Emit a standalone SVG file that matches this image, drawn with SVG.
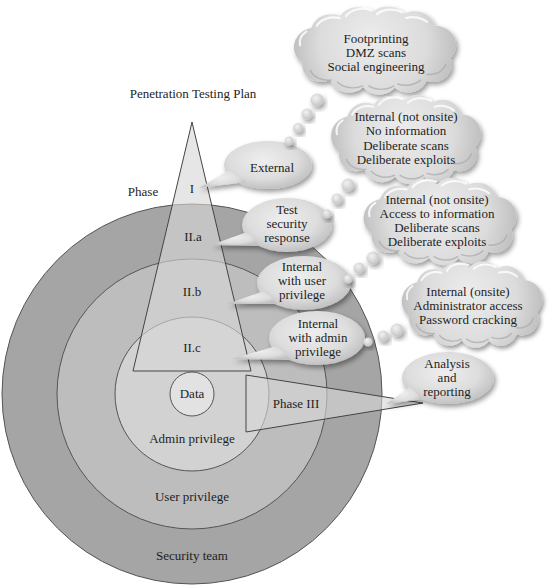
<svg xmlns="http://www.w3.org/2000/svg" xmlns:xlink="http://www.w3.org/1999/xlink" width="550" height="586" viewBox="0 0 550 586" font-family="'Liberation Serif', 'DejaVu Serif', serif">
<style>
  text { font-family: 'Liberation Serif', 'DejaVu Serif', serif; font-size: 13px; fill: #1e1e1e; text-anchor: middle; }
  .ring { stroke: #555; stroke-width: 1; }
  .overlay { fill: #d6d6d6; fill-opacity: 0.62; stroke: #444; stroke-width: 1; }
  .bubble { fill: url(#bubbleGrad); }
  .dot { fill: url(#dotGrad); filter: url(#shadow); }
  .hl { fill: none; stroke: #ffffff; stroke-width: 2.2; stroke-opacity: 0.8; stroke-linecap: round; }
  .lo { fill: none; stroke: #a8a8a8; stroke-width: 1.5; stroke-opacity: 0.7; stroke-linecap: round; }
</style>
<defs>
  <filter id="shadow" x="-20%" y="-20%" width="150%" height="160%">
    <feDropShadow dx="2" dy="3" stdDeviation="2.5" flood-color="#000" flood-opacity="0.4"/>
  </filter>
  <radialGradient id="cloudGrad" gradientUnits="userSpaceOnUse" cx="0" cy="-4" r="86" fx="-5" fy="-15">
    <stop offset="0" stop-color="#ececec"/>
    <stop offset="0.6" stop-color="#dcdcdc"/>
    <stop offset="1" stop-color="#b8b8b8"/>
  </radialGradient>
  <radialGradient id="bubbleGrad" cx="0.45" cy="0.4" r="0.6">
    <stop offset="0" stop-color="#eeeeee"/>
    <stop offset="0.65" stop-color="#dddddd"/>
    <stop offset="1" stop-color="#c2c2c2"/>
  </radialGradient>
  <radialGradient id="dotGrad" cx="0.4" cy="0.35" r="0.65">
    <stop offset="0" stop-color="#f2f2f2"/>
    <stop offset="1" stop-color="#c4c4c4"/>
  </radialGradient>
  <g id="cloudShape">
    <g fill="url(#cloudGrad)">
      <ellipse cx="0" cy="0" rx="62" ry="30"/>
      <circle cx="-58" cy="-4" r="20"/>
      <circle cx="-42" cy="-18" r="20"/>
      <circle cx="-17" cy="-25" r="20"/>
      <circle cx="12" cy="-26" r="20"/>
      <circle cx="38" cy="-21" r="20"/>
      <circle cx="58" cy="-6" r="20"/>
      <circle cx="56" cy="14" r="18"/>
      <circle cx="32" cy="24" r="19"/>
      <circle cx="4" cy="26" r="19"/>
      <circle cx="-25" cy="24" r="19"/>
      <circle cx="-52" cy="14" r="18"/>
    </g>
    <path class="hl" d="M -56,-26 a 18 14 0 0 1 22 -8"/>
    <path class="hl" d="M -28,-36 a 18 14 0 0 1 24 -6"/>
    <path class="hl" d="M 2,-38 a 18 14 0 0 1 24 -2"/>
    <path class="hl" d="M 30,-34 a 18 14 0 0 1 20 4"/>
    <path class="hl" d="M -72,-6 a 16 14 0 0 1 6 -14"/>
    <path class="lo" d="M -62,20 a 18 14 0 0 0 20 10"/>
    <path class="lo" d="M -36,32 a 18 14 0 0 0 24 4"/>
    <path class="lo" d="M -6,36 a 18 14 0 0 0 24 0"/>
    <path class="lo" d="M 22,34 a 18 14 0 0 0 22 -4"/>
    <path class="lo" d="M 50,24 a 16 14 0 0 0 18 -10"/>
  </g>
</defs>

<rect width="550" height="586" fill="#ffffff"/>

<g id="title"><text x="193" y="98">Penetration Testing Plan</text></g>

<g id="security-team">
  <circle class="ring" cx="192" cy="394" r="190" fill="#a5a5a5"/>
  <text x="192" y="560">Security team</text>
</g>
<g id="user-privilege">
  <circle class="ring" cx="192" cy="394" r="135" fill="#bdbdbd"/>
  <text x="192" y="501">User privilege</text>
</g>
<g id="admin-privilege">
  <circle class="ring" cx="192" cy="394" r="77" fill="#d2d2d2"/>
  <text x="192" y="443">Admin privilege</text>
</g>
<g id="data">
  <circle class="ring" cx="192" cy="394" r="22" fill="#e2e2e2"/>
  <text x="192" y="398">Data</text>
</g>

<g id="phase-trapezoid">
  <polygon class="overlay" points="192,122 251,371 133,371"/>
  <text x="143" y="196">Phase</text>
  <text x="192" y="193">I</text>
  <text x="193" y="241">II.a</text>
  <text x="192" y="296">II.b</text>
  <text x="192" y="352">II.c</text>
</g>

<g id="phase-iii">
  <polygon class="overlay" points="246,375 423,403 246,432"/>
  <text x="296" y="408">Phase III</text>
</g>

<g id="bubble-external">
  <g class="bubble" filter="url(#shadow)">
    <ellipse cx="268" cy="165" rx="44" ry="24"/>
    <polygon points="229,170 199,188 246,182"/>
  </g>
  <text x="272" y="172">External</text>
</g>
<g id="bubble-test-security">
  <g class="bubble" filter="url(#shadow)">
    <ellipse cx="287" cy="225" rx="45" ry="27"/>
    <polygon points="247,232 211,245 260,246"/>
  </g>
  <text x="287" y="214">Test</text>
  <text x="287" y="228">security</text>
  <text x="287" y="242">response</text>
</g>
<g id="bubble-user">
  <g class="bubble" filter="url(#shadow)">
    <ellipse cx="304" cy="283" rx="47" ry="27"/>
    <polygon points="264,291 227,304 278,304"/>
  </g>
  <text x="302" y="271">Internal</text>
  <text x="302" y="285">with user</text>
  <text x="302" y="299">privilege</text>
</g>
<g id="bubble-admin">
  <g class="bubble" filter="url(#shadow)">
    <ellipse cx="317" cy="338" rx="48" ry="27"/>
    <polygon points="276,346 232,359 292,360"/>
  </g>
  <text x="318" y="328">Internal</text>
  <text x="318" y="342">with admin</text>
  <text x="318" y="356">privilege</text>
</g>
<g id="bubble-analysis">
  <g class="bubble" filter="url(#shadow)">
    <ellipse cx="448" cy="378" rx="46" ry="26"/>
    <polygon points="410,387 386,404 422,399"/>
  </g>
  <text x="447" y="368">Analysis</text>
  <text x="447" y="382">and</text>
  <text x="447" y="396">reporting</text>
</g>

<g id="connectors">
  <circle class="dot" cx="289" cy="141" r="4.5"/>
  <circle class="dot" cx="298" cy="128" r="5"/>
  <circle class="dot" cx="307" cy="114" r="5.5"/>
  <circle class="dot" cx="317" cy="100" r="6.5"/>
  <circle class="dot" cx="327" cy="214" r="4.5"/>
  <circle class="dot" cx="337" cy="199" r="5.5"/>
  <circle class="dot" cx="348" cy="185" r="6.5"/>
  <circle class="dot" cx="348" cy="279" r="4.5"/>
  <circle class="dot" cx="359" cy="268" r="5.5"/>
  <circle class="dot" cx="373" cy="258" r="6.5"/>
  <circle class="dot" cx="368" cy="342" r="4.5"/>
  <circle class="dot" cx="383" cy="336" r="5.5"/>
  <circle class="dot" cx="397" cy="330" r="6.5"/>
</g>

<g id="cloud-external">
  <use xlink:href="#cloudShape" transform="translate(375,51) scale(1.04,0.97)" filter="url(#shadow)"/>
  <text x="376" y="43">Footprinting</text>
  <text x="376" y="57">DMZ scans</text>
  <text x="376" y="71">Social engineering</text>
</g>
<g id="cloud-no-info">
  <use xlink:href="#cloudShape" transform="translate(406,140) scale(0.96,0.98)" filter="url(#shadow)"/>
  <text x="406" y="121">Internal (not onsite)</text>
  <text x="406" y="135">No information</text>
  <text x="406" y="150">Deliberate scans</text>
  <text x="406" y="164">Deliberate exploits</text>
</g>
<g id="cloud-access-info">
  <use xlink:href="#cloudShape" transform="translate(440,222) scale(0.98,0.96)" filter="url(#shadow)"/>
  <text x="437" y="204">Internal (not onsite)</text>
  <text x="437" y="218">Access to information</text>
  <text x="437" y="232">Deliberate scans</text>
  <text x="437" y="246">Deliberate exploits</text>
</g>
<g id="cloud-onsite">
  <use xlink:href="#cloudShape" transform="translate(472,305) scale(0.9,0.95)" filter="url(#shadow)"/>
  <text x="468" y="296">Internal (onsite)</text>
  <text x="468" y="310">Administrator access</text>
  <text x="468" y="324">Password cracking</text>
</g>
</svg>
